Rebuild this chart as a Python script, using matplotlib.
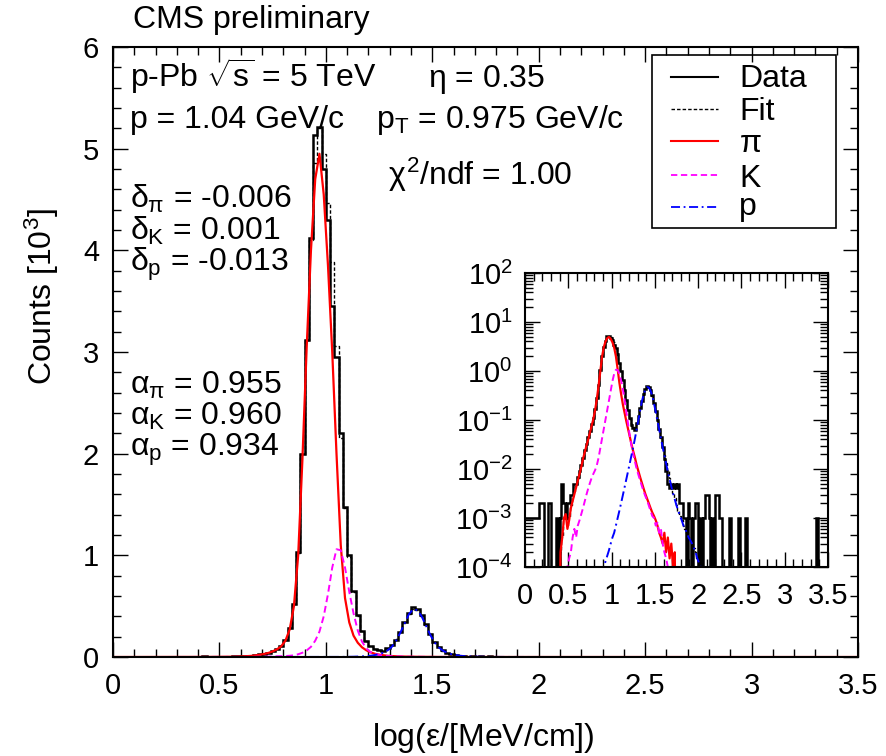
import numpy as np
import matplotlib
matplotlib.use('Agg')
import matplotlib.pyplot as plt
from matplotlib.ticker import MultipleLocator, LogLocator, NullFormatter, LogFormatterMathtext, FuncFormatter
from matplotlib.lines import Line2D
from matplotlib.patches import Rectangle

plt.rcParams['font.family'] = ['Liberation Sans', 'DejaVu Sans']
plt.rcParams['mathtext.fontset'] = 'custom'
plt.rcParams['mathtext.rm'] = 'Liberation Sans'
plt.rcParams['mathtext.it'] = 'Liberation Sans'
plt.rcParams['mathtext.sf'] = 'Liberation Sans'
plt.rcParams['mathtext.bf'] = 'Liberation Sans:bold'
plt.rcParams['axes.unicode_minus'] = False

# %%
# Histogram binning: 0.02 wide bins from 0 to 3.5
bin_w = 0.02
n_bins = 175

# Data counts per bin, bins starting at 0.00 (centres 0.01 ... 2.59)
data_counts = [1, 1, 1, 1, 1, 1, 1, 1, 2, 2,
               2, 0, 0, 2, 2, 0, 0, 0, 1, 0,
               1, 5, 2, 1, 2, 2, 3, 3, 5, 5,
               7, 9, 12, 17, 25, 32, 44, 60, 83, 112,
               170, 285, 520, 1030, 2000, 3120, 4120, 5130, 5210, 4800,
               4300, 3450, 2950, 2200, 1480, 1000, 650, 410, 260, 160,
               110, 80, 68, 62, 85, 118, 172, 250, 345, 430,
               490, 470, 410, 320, 225, 150, 98, 65, 44, 28,
               16, 9, 5, 4, 5, 4, 5, 4, 5, 2,
               2, 1, 1, 0, 2, 1, 0, 1, 2, 2,
               0, 1, 0, 1, 3, 3, 1, 0, 1, 0,
               3, 3, 1, 1, 0, 0, 0, 0, 1, 0,
               0, 0, 0, 1, 0, 0, 0, 1, 0, 0]
# isolated count far out in the tail
data_tail_x = [3.37]
data_tail_counts = [1]

# Fitted templates in units of 10^3 counts (first bin centre given)
pion_start = 0.41
pion_vals = [0.0002, 0.0004, 0.0010, 0.0012, 0.0006, 0.0009, 0.0016, 0.0022, 0.0030, 0.0042,
             0.0058, 0.0080, 0.011, 0.016, 0.022, 0.030, 0.040, 0.055, 0.075, 0.105,
             0.16, 0.27, 0.50, 1.00, 1.95, 3.05, 4.00, 4.70, 4.95, 4.55,
             3.85, 3.00, 2.00, 1.10, 0.58, 0.34, 0.21, 0.14, 0.095, 0.066,
             0.046, 0.032, 0.023, 0.017, 0.012, 0.0090, 0.0068, 0.0052, 0.0040, 0.0031,
             0.0025, 0.0020, 0.0016, 0.0013, 0.0011, 0.0009, 0.0007, 0.0005, 0.0004, 0.0003,
             0.0005, 0.0002, 0.0004, 0.00015, 0.0003, 0.0001, 0.0002]

kaon_start = 0.49
kaon_vals = [0.0001, 0.00015, 0.0002, 0.0004, 0.0006, 0.0004, 0.0007, 0.0009, 0.0012, 0.0016,
             0.0022, 0.0030, 0.0040, 0.0052, 0.0066, 0.0080, 0.0095, 0.012, 0.017, 0.027,
             0.042, 0.065, 0.10, 0.16, 0.25, 0.40, 0.62, 0.88, 1.06, 1.05,
             0.88, 0.64, 0.43, 0.26, 0.15, 0.085, 0.048, 0.030, 0.020, 0.014,
             0.010, 0.0076, 0.0058, 0.0045, 0.0035, 0.0028, 0.0023, 0.0018, 0.0014, 0.0011,
             0.0010, 0.0007, 0.0008, 0.0005, 0.0006, 0.0003, 0.0002, 0.00015, 0.0001, 0.0001]

proton_start = 0.91
proton_vals = [0.0001, 0.00013, 0.00017, 0.00022, 0.0003, 0.0004, 0.0005, 0.0007, 0.0010, 0.0014,
               0.0020, 0.0029, 0.0042, 0.0060, 0.0088, 0.013, 0.019, 0.028, 0.042, 0.065,
               0.10, 0.16, 0.24, 0.33, 0.42, 0.47, 0.46, 0.40, 0.31, 0.22,
               0.145, 0.095, 0.062, 0.042, 0.028, 0.019, 0.013, 0.0088, 0.0062, 0.0044,
               0.0032, 0.0024, 0.0018, 0.0014, 0.0011, 0.0009, 0.0007, 0.0006, 0.0005, 0.0004,
               0.00035, 0.0003, 0.00025, 0.0002, 0.00015, 0.00012, 0.0001, 0.0001]

# Fit parameters shown on the plot
delta_lines = [r'$\delta_{\pi}$ = -0.006', r'$\delta_{K}$ = 0.001', r'$\delta_{p}$ = -0.013']
alpha_lines = [r'$\alpha_{\pi}$ = 0.955', r'$\alpha_{K}$ = 0.960', r'$\alpha_{p}$ = 0.934']


# %%
# Put every list on the common binning
edges = np.arange(n_bins + 1) * bin_w
centers = edges[:-1] + bin_w / 2


def on_bins(start, vals):
    full = np.zeros(n_bins)
    i0 = int(round((start - bin_w / 2) / bin_w))
    full[i0:i0 + len(vals)] = vals
    return full


data = np.zeros(n_bins)
data[:len(data_counts)] = np.array(data_counts) / 1000.
for x, c in zip(data_tail_x, data_tail_counts):
    data[int(x / bin_w)] = c / 1000.

pion = on_bins(pion_start, pion_vals)
kaon = on_bins(kaon_start, kaon_vals)
proton = on_bins(proton_start, proton_vals)
fit = pion + kaon + proton

# %%
W, H = 886, 756
fig = plt.figure(figsize=(W / 100, H / 100), dpi=100)


def fx(px):
    return px / W


def fy(py):
    return 1 - py / H


fs = 23      # annotation text
tfs = 21     # tick labels
fit_ls = (0, (2.5, 1.5))
k_ls = (0, (3.5, 2))
p_ls = (0, (5, 2, 1, 2))


def draw_all(a, floor=None):
    d, f, pi, k, p = data, fit, pion, kaon, proton
    if floor is not None:
        d, f, pi, k, p = [np.where(v > 0, v, floor) for v in (d, f, pi, k, p)]
    a.stairs(d, edges, color='black', lw=1.8, baseline=None)
    a.stairs(f, edges, color='black', lw=1.0, ls=fit_ls, baseline=None)
    a.plot(centers, pi, color='red', lw=1.6)
    a.plot(centers, k, color='magenta', lw=1.4, ls=k_ls)
    a.plot(centers, p, color='blue', lw=1.4, ls=p_ls)


def root_ticks(a):
    a.tick_params(which='both', direction='in', top=True, right=True, width=1, labelsize=tfs)
    a.tick_params(which='major', length=11)
    a.tick_params(which='minor', length=5.5)
    for s in a.spines.values():
        s.set_linewidth(1.5)


# Main panel (linear)
ax = fig.add_axes([fx(113), fy(657), (858 - 113) / W, (657 - 47) / H])
draw_all(ax)
ax.set_xlim(0, 3.5)
ax.set_ylim(0, 6)
ax.xaxis.set_major_locator(MultipleLocator(0.5))
ax.xaxis.set_minor_locator(MultipleLocator(0.1))
ax.yaxis.set_major_locator(MultipleLocator(1))
ax.yaxis.set_minor_locator(MultipleLocator(0.2))
ax.xaxis.set_major_formatter(FuncFormatter(lambda v, pos: '%g' % v))
ax.yaxis.set_major_formatter(FuncFormatter(lambda v, pos: '%g' % v))
root_ticks(ax)
ax.tick_params(axis='x', pad=11)
ax.tick_params(axis='y', pad=10)

# Inset (log)
ax2 = fig.add_axes([fx(525), fy(567), (828 - 525) / W, (567 - 273) / H])
draw_all(ax2, floor=1e-7)
ax2.set_yscale('log')
ax2.set_xlim(0, 3.5)
ax2.set_ylim(1e-4, 1e2)
ax2.xaxis.set_major_locator(MultipleLocator(0.5))
ax2.xaxis.set_minor_locator(MultipleLocator(0.1))
ax2.xaxis.set_major_formatter(FuncFormatter(lambda v, pos: '%g' % v))
ax2.yaxis.set_major_locator(LogLocator(base=10, numticks=20))
ax2.yaxis.set_minor_locator(LogLocator(base=10, subs=np.arange(2, 10), numticks=100))
ax2.yaxis.set_major_formatter(LogFormatterMathtext())
ax2.yaxis.set_minor_formatter(NullFormatter())
root_ticks(ax2)
ax2.tick_params(axis='x', pad=11)
ax2.tick_params(axis='y', pad=9)

# %%
# Labels and annotations
fig.text(fx(42), fy(297), r'Counts [10$^{3}$]', rotation=90, ha='center', va='center', fontsize=fs)
fig.text(fx(483), fy(738), r'log($\varepsilon$/[MeV/cm])', ha='center', va='center', fontsize=fs)

notes = [(133, 28, 'CMS preliminary'),
         (130, 87, r'p-Pb $\sqrt{s}$ = 5 TeV'),
         (428, 87, r'$\eta$ = 0.35'),
         (130, 128, 'p = 1.04 GeV/c'),
         (376, 128, r'p$_{\mathrm{T}}$ = 0.975 GeV/c'),
         (388, 185, r'$\chi^{2}$/ndf = 1.00')]
for px, py, s in notes:
    fig.text(fx(px), fy(py), s, ha='left', va='baseline', fontsize=fs)

# stacked parameter blocks (one text each so the subscripts may touch the next line)
fig.text(fx(130), fy(183), '\n'.join(delta_lines), ha='left', va='top', fontsize=fs, linespacing=0.98)
fig.text(fx(130), fy(370), '\n'.join(alpha_lines), ha='left', va='top', fontsize=fs, linespacing=1.0)

# Legend drawn by hand in ROOT style
fig.add_artist(Rectangle((fx(652), fy(228)), (836 - 652) / W, (228 - 55) / H,
                         transform=fig.transFigure, fill=False, ec='black', lw=1.2))
leg = [('Data', 'black', '-', 1.5, 76.7, 87),
       ('Fit', 'black', fit_ls, 1.0, 109, 120),
       (r'$\pi$', 'red', '-', 1.5, 141, 152),
       ('K', 'magenta', k_ls, 1.3, 175, 187),
       ('p', 'blue', p_ls, 1.3, 206.7, 215)]
for lab, col, ls, lw, ly, ty in leg:
    fig.add_artist(Line2D([fx(671), fx(718)], [fy(ly), fy(ly)], transform=fig.transFigure,
                          color=col, ls=ls, lw=lw))
    fig.text(fx(739), fy(ty), lab, ha='left', va='baseline', fontsize=fs)

fig.savefig('out.png', dpi=100)
